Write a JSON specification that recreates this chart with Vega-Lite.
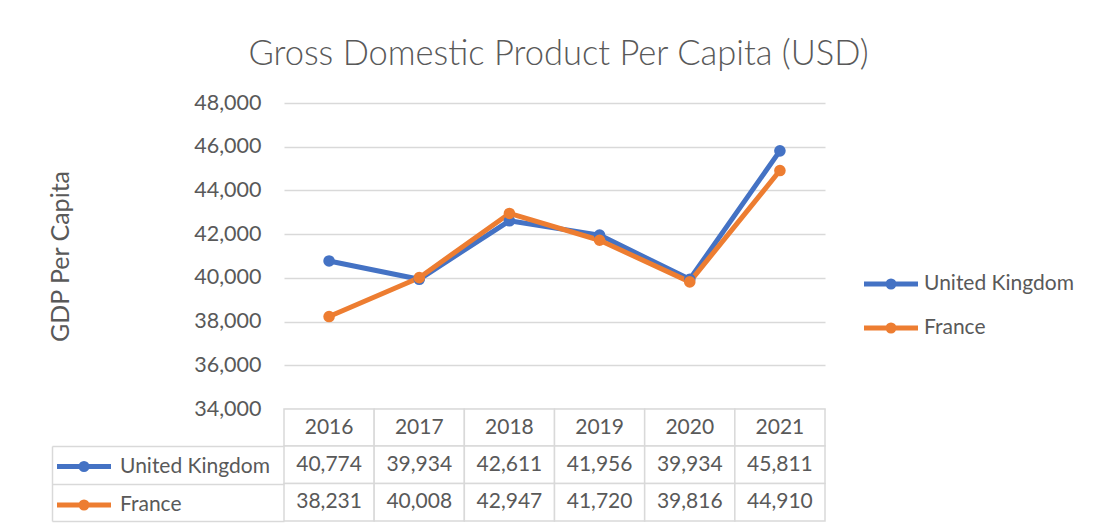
{
  "$schema": "https://vega.github.io/schema/vega-lite/v6.json",
  "padding": {"left": 47, "top": 36, "right": 5, "bottom": 5},
  "bounds": "flush",
  "spacing": 0,
  "title": {
    "text": "Gross Domestic Product Per Capita (USD)",
    "fontSize": 34.5,
    "fontWeight": 300,
    "color": "#595959",
    "anchor": "middle",
    "frame": "group",
    "baseline": "alphabetic",
    "offset": -7,
    "dx": 4
  },
  "datasets": {
    "gdp": [
      {"year": "2016", "country": "United Kingdom", "gdp": 40774},
      {"year": "2017", "country": "United Kingdom", "gdp": 39934},
      {"year": "2018", "country": "United Kingdom", "gdp": 42611},
      {"year": "2019", "country": "United Kingdom", "gdp": 41956},
      {"year": "2020", "country": "United Kingdom", "gdp": 39934},
      {"year": "2021", "country": "United Kingdom", "gdp": 45811},
      {"year": "2016", "country": "France", "gdp": 38231},
      {"year": "2017", "country": "France", "gdp": 40008},
      {"year": "2018", "country": "France", "gdp": 42947},
      {"year": "2019", "country": "France", "gdp": 41720},
      {"year": "2020", "country": "France", "gdp": 39816},
      {"year": "2021", "country": "France", "gdp": 44910}
    ]
  },
  "config": {
    "font": "Lato",
    "view": {"stroke": null}
  },
  "resolve": {
    "scale": {"color": "independent", "x": "independent", "y": "independent"},
    "legend": {"color": "independent"}
  },
  "vconcat": [
    {
      "width": 541,
      "height": 306,
      "data": {"name": "gdp"},
      "mark": {
        "type": "line",
        "strokeWidth": 5,
        "strokeCap": "round",
        "strokeJoin": "round",
        "point": {"filled": true, "size": 135}
      },
      "encoding": {
        "x": {
          "field": "year",
          "type": "ordinal",
          "scale": {"type": "point", "padding": 0.5},
          "axis": null
        },
        "y": {
          "field": "gdp",
          "type": "quantitative",
          "scale": {"domain": [34000, 48000], "nice": false, "zero": false},
          "axis": {
            "title": "GDP Per Capita",
            "tickCount": 7,
            "format": ",.0f",
            "domain": false,
            "ticks": false,
            "labelPadding": 23,
            "labelFontSize": 21.5,
            "labelColor": "#595959",
            "gridColor": "#d9d9d9",
            "gridWidth": 1.5,
            "titleFontSize": 25,
            "titleFontWeight": "normal",
            "titleColor": "#595959",
            "titleX": -224,
            "titleBaseline": "middle"
          }
        },
        "color": {
          "field": "country",
          "type": "nominal",
          "scale": {"domain": ["United Kingdom", "France"], "range": ["#4472C4", "#ED7D31"]},
          "legend": {
            "orient": "none",
            "legendX": 596.5,
            "legendY": 170.5,
            "title": null,
            "padding": 0,
            "symbolType": "M -5.4 0 L 5.4 0 M 0.6 0 A 0.6 0.6 0 1 1 -0.6 0 A 0.6 0.6 0 1 1 0.6 0 Z",
            "symbolSize": 100,
            "symbolStrokeWidth": 5,
            "labelFontSize": 21,
            "labelColor": "#595959",
            "labelOffset": 22.5,
            "rowPadding": 17
          }
        }
      }
    },
    {
      "width": 541,
      "height": 37,
      "data": {"name": "gdp"},
      "transform": [{"filter": "datum.country === 'United Kingdom'"}],
      "encoding": {
        "x": {
          "field": "year",
          "type": "ordinal",
          "scale": {"type": "band", "paddingInner": 0, "paddingOuter": 0},
          "axis": null
        }
      },
      "layer": [
        {"mark": {"type": "rect", "fill": "white", "stroke": "#d9d9d9", "strokeWidth": 1.5}},
        {
          "mark": {"type": "text", "fontSize": 21, "color": "#595959"},
          "encoding": {"text": {"field": "year", "type": "nominal"}}
        }
      ]
    },
    {
      "width": 541,
      "height": 75,
      "data": {"name": "gdp"},
      "encoding": {
        "x": {
          "field": "year",
          "type": "ordinal",
          "scale": {"type": "band", "paddingInner": 0, "paddingOuter": 0},
          "axis": null
        },
        "y": {
          "field": "country",
          "type": "nominal",
          "scale": {"domain": ["United Kingdom", "France"], "paddingInner": 0, "paddingOuter": 0},
          "axis": {
            "title": null,
            "labels": false,
            "grid": false,
            "offset": 232,
            "domainColor": "#d9d9d9",
            "domainWidth": 1.5,
            "tickColor": "#d9d9d9",
            "tickWidth": 1.5,
            "tickSize": -232,
            "tickBand": "extent"
          }
        }
      },
      "layer": [
        {"mark": {"type": "rect", "fill": "white", "stroke": "#d9d9d9", "strokeWidth": 1.5}},
        {
          "mark": {"type": "text", "fontSize": 21, "color": "#595959"},
          "encoding": {"text": {"field": "gdp", "type": "quantitative", "format": ","}}
        },
        {
          "transform": [{"filter": "datum.year === '2016'"}],
          "mark": {"type": "line", "strokeWidth": 5},
          "encoding": {
            "color": {
              "field": "country",
              "type": "nominal",
              "scale": {"domain": ["United Kingdom", "France"], "range": ["#4472C4", "#ED7D31"]},
              "legend": {
                "orient": "none",
                "legendX": -210.5,
                "legendY": 10,
                "title": null,
                "padding": 0,
                "symbolType": "M -5.4 0 L 5.4 0 M 0.6 0 A 0.6 0.6 0 1 1 -0.6 0 A 0.6 0.6 0 1 1 0.6 0 Z",
                "symbolSize": 100,
                "symbolStrokeWidth": 5,
                "labelFontSize": 21,
                "labelColor": "#595959",
                "labelOffset": 25.5,
                "rowPadding": 11.5
              }
            }
          }
        }
      ]
    }
  ]
}
